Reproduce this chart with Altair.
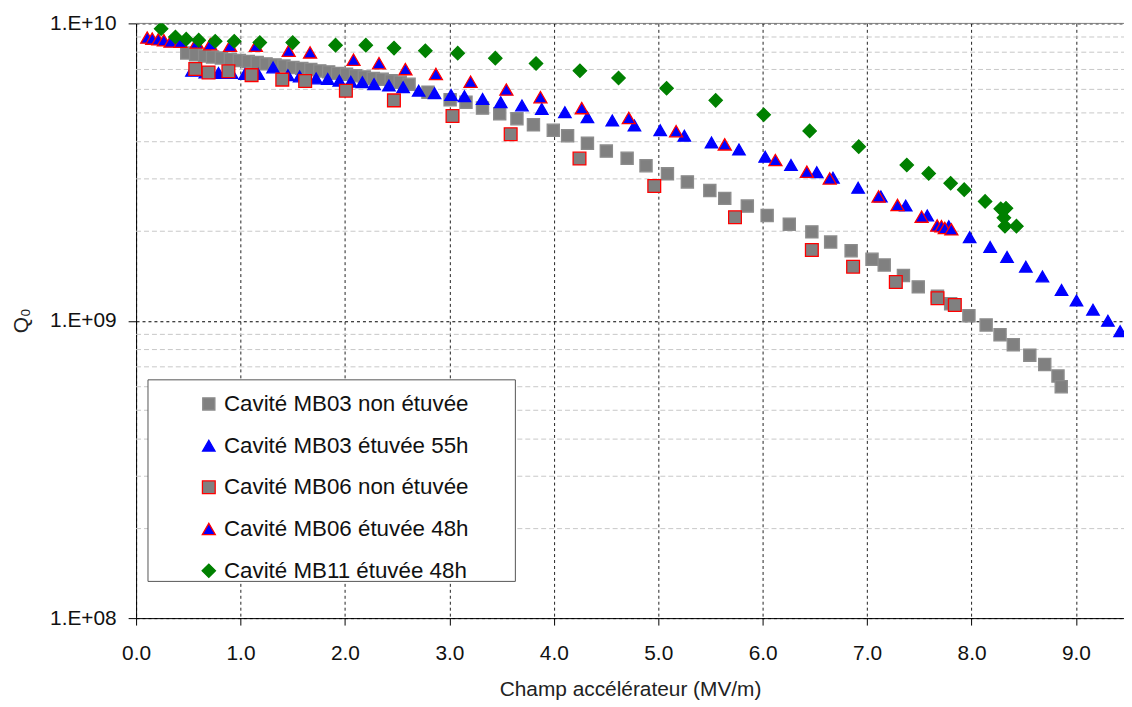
import altair as alt
import pandas as pd

# ---------------- data ----------------
SERIES = [
    "Cavité MB03 non étuvée",
    "Cavité MB03 étuvée 55h",
    "Cavité MB06 non étuvée",
    "Cavité MB06 étuvée 48h",
    "Cavité MB11 étuvée 48h",
]

# Champ accélérateur (MV/m) and Q0 (in units of 1e9)
MB03_NON_E = [0.485, 0.570, 0.656, 0.732, 0.817, 0.903, 0.989, 1.074, 1.160, 1.245,
              1.331, 1.416, 1.502, 1.587, 1.673, 1.759, 1.844, 1.930, 2.015, 2.101,
              2.186, 2.272, 2.357, 2.443, 2.529, 2.614, 2.795, 3.007, 3.159, 3.317,
              3.482, 3.647, 3.805, 3.995, 4.132, 4.322, 4.503, 4.702, 4.883, 5.088,
              5.279, 5.494, 5.637, 5.853, 6.043, 6.255, 6.471, 6.651, 6.847, 7.047,
              7.164, 7.348, 7.490, 7.674, 7.800, 7.975, 8.140, 8.273, 8.400, 8.558,
              8.701, 8.828, 8.859]
MB03_NON_Q = [7.95, 7.85, 7.77, 7.71, 7.65, 7.56, 7.50, 7.45, 7.39, 7.31,
              7.25, 7.19, 7.11, 7.06, 7.00, 6.92, 6.87, 6.79, 6.74, 6.67,
              6.61, 6.53, 6.49, 6.41, 6.34, 6.24, 5.87, 5.54, 5.43, 5.19,
              4.97, 4.78, 4.56, 4.37, 4.19, 3.95, 3.72, 3.52, 3.32, 3.12,
              2.93, 2.74, 2.58, 2.43, 2.26, 2.11, 1.99, 1.84, 1.72, 1.61,
              1.54, 1.42, 1.30, 1.21, 1.14, 1.04, 0.968, 0.897, 0.831, 0.766,
              0.713, 0.652, 0.600]

MB03_55_E = [0.535, 0.663, 0.789, 0.915, 1.043, 1.169, 1.312, 1.454, 1.566, 1.724,
             1.835, 1.946, 2.056, 2.167, 2.279, 2.421, 2.557, 2.706, 2.858, 3.016,
             3.144, 3.318, 3.492, 3.695, 3.885, 4.106, 4.322, 4.560, 4.772, 5.019,
             5.250, 5.510, 5.773, 6.024, 6.271, 6.518, 6.673, 6.914, 7.132, 7.370,
             7.576, 7.782, 7.982, 8.178, 8.340, 8.520, 8.679, 8.862, 9.005, 9.163,
             9.306, 9.423]
MB03_55_Q = [6.93, 6.84, 6.81, 6.81, 6.76, 6.76, 7.11, 6.70, 6.63, 6.53,
             6.50, 6.42, 6.37, 6.34, 6.25, 6.18, 6.10, 5.94, 5.82, 5.75,
             5.69, 5.57, 5.43, 5.30, 5.16, 5.03, 4.84, 4.72, 4.54, 4.37,
             4.19, 3.98, 3.77, 3.56, 3.34, 3.16, 3.03, 2.80, 2.62, 2.44,
             2.26, 2.08, 1.91, 1.77, 1.64, 1.52, 1.41, 1.27, 1.17, 1.09,
             1.00, 0.923]

MB06_NON_E = [0.567, 0.694, 0.884, 1.106, 1.400, 1.619, 2.009, 2.469, 3.030, 3.587,
              4.246, 4.962, 5.735, 6.471, 6.866, 7.275, 7.674, 7.840]
MB06_NON_Q = [7.02, 6.84, 6.90, 6.70, 6.47, 6.40, 5.94, 5.51, 4.88, 4.24,
              3.51, 2.84, 2.23, 1.73, 1.52, 1.35, 1.19, 1.13]

MB06_48_E = [0.107, 0.155, 0.213, 0.266, 0.330, 0.425, 0.580, 0.710, 0.900, 1.147,
             1.461, 1.666, 2.082, 2.326, 2.579, 2.871, 3.203, 3.546, 3.872, 4.268,
             4.718, 5.171, 5.637, 6.122, 6.423, 6.642, 7.110, 7.291, 7.522, 7.671,
             7.712, 7.744, 7.807]
MB06_48_Q = [8.96, 8.89, 8.84, 8.78, 8.69, 8.67, 8.63, 8.51, 8.41, 8.41,
             8.09, 7.99, 7.55, 7.35, 7.02, 6.76, 6.37, 5.99, 5.65, 5.19,
             4.81, 4.34, 3.92, 3.47, 3.17, 3.01, 2.62, 2.45, 2.24, 2.09,
             2.08, 2.05, 2.03]

MB11_48_E = [0.24, 0.377, 0.48, 0.60, 0.758, 0.94, 1.185, 1.50, 1.91, 2.20,
             2.47, 2.77, 3.08, 3.44, 3.83, 4.25, 4.62, 5.08, 5.55, 6.01,
             6.45, 6.92, 7.38, 7.59, 7.80, 7.93, 8.13, 8.28, 8.33, 8.31,
             8.32, 8.43]
MB11_48_Q = [9.6, 9.0, 8.85, 8.78, 8.71, 8.71, 8.62, 8.62, 8.45, 8.45,
             8.26, 8.09, 7.94, 7.64, 7.33, 6.93, 6.55, 6.05, 5.51, 4.93,
             4.35, 3.85, 3.34, 3.13, 2.90, 2.76, 2.52, 2.38, 2.39, 2.22,
             2.08, 2.08]

X_TICKS = [0, 1, 2, 3, 4, 5, 6, 7, 8, 9]
Y_TICK_VALUES = [1e8, 1e9, 1e10]
Y_TICK_LABELS = ["1.E+08", "1.E+09", "1.E+10"]
MINOR_GRID = [2e8, 3e8, 4e8, 5e8, 6e8, 7e8, 8e8, 9e8,
              2e9, 3e9, 4e9, 5e9, 6e9, 7e9, 8e9, 9e9]

X_TITLE = "Champ accélérateur (MV/m)"
Y_TITLE = "Q₀"

# ---------------- styles ----------------
SHAPES = ["square", "triangle-up", "square", "triangle-up", "diamond"]
FILLS = ["#808080", "#0000FF", "#808080", "#0000FF", "#008000"]
STROKES = ["#8c8c8c", "#0000FF", "#FF0000", "#FF0000", "#008000"]
SIZES = [150, 180, 135, 180, 170]

FONT = "Liberation Sans"
W, H = 995, 599

all_e = [MB03_NON_E, MB03_55_E, MB06_NON_E, MB06_48_E, MB11_48_E]
all_q = [MB03_NON_Q, MB03_55_Q, MB06_NON_Q, MB06_48_Q, MB11_48_Q]
rows = []
k = 0
for name, es, qs in zip(SERIES, all_e, all_q):
    for e, q in zip(es, qs):
        rows.append({"serie": name, "E": e, "Q": q * 1e9, "ord": k})
        k += 1
df = pd.DataFrame(rows)

x_scale = alt.Scale(domain=[0, 9.46], nice=False, zero=False)
y_scale = alt.Scale(type="log", domain=[1e8, 1e10], nice=False)

label_expr = " : ".join(
    f"datum.value < {v * 3.0:g} ? '{lab}'" for v, lab in zip(Y_TICK_VALUES[:-1], Y_TICK_LABELS[:-1])
) + f" : '{Y_TICK_LABELS[-1]}'"

x_axis = alt.Axis(
    values=X_TICKS, format=".1f", title=X_TITLE,
    grid=True, gridColor="#222222", gridDash=[3, 3], gridWidth=1,
    domainColor="#000000", domainWidth=1, tickColor="#000000", tickSize=7,
    labelFont=FONT, labelFontSize=21, labelColor="#111111", labelPadding=18,
    labelFlush=False, labelOverlap=False,
    titleFont=FONT, titleFontSize=21, titleFontWeight="normal", titleColor="#222222",
    titleY=72, titleBaseline="middle",
)
y_axis = alt.Axis(
    values=Y_TICK_VALUES, labelExpr=label_expr, title=Y_TITLE,
    grid=True, gridColor="#000000", gridDash=[3, 3], gridWidth=1,
    domainColor="#000000", domainWidth=1, tickColor="#000000", tickSize=8,
    labelFont=FONT, labelFontSize=21, labelColor="#111111", labelPadding=12,
    labelFlush=False, labelOverlap=False, labelBaseline="middle",
    titleFont=FONT, titleFontSize=21, titleFontWeight="normal", titleColor="#222222",
    titleX=-115, titleY=299, titleAngle=270, titleAlign="center", titleBaseline="middle",
)

minor = alt.Chart(pd.DataFrame({"Q": MINOR_GRID})).mark_rule(
    color="#c8c8c8", strokeDash=[5, 3], strokeWidth=1
).encode(
    y=alt.Y("Q:Q", scale=y_scale, axis=y_axis),
    x=alt.value(0), x2=alt.value(W),
)

top_border = alt.Chart(pd.DataFrame({"k": [0]})).mark_rule(
    color="#808080", strokeWidth=1
).encode(x=alt.value(0), x2=alt.value(W), y=alt.value(0))

legend_box = alt.Chart(pd.DataFrame({"k": [0]})).mark_rect(
    fill="#ffffff", stroke="#555555", strokeWidth=1
).encode(x=alt.value(12), x2=alt.value(382), y=alt.value(359), y2=alt.value(562))

leg = alt.Legend(
    title=None, orient="none", legendX=62, legendY=372, padding=0,
    labelFont=FONT, labelFontSize=22.5, labelColor="#111111", labelOffset=4,
    rowPadding=19, labelLimit=500, symbolStrokeWidth=1.3,
)

points = alt.Chart(df).mark_point(filled=True, opacity=1, strokeWidth=1.3, clip=True).encode(
    x=alt.X("E:Q", scale=x_scale, axis=x_axis),
    y=alt.Y("Q:Q", scale=y_scale, axis=y_axis),
    shape=alt.Shape("serie:N", scale=alt.Scale(domain=SERIES, range=SHAPES), legend=leg),
    fill=alt.Fill("serie:N", scale=alt.Scale(domain=SERIES, range=FILLS), legend=leg),
    stroke=alt.Stroke("serie:N", scale=alt.Scale(domain=SERIES, range=STROKES), legend=leg),
    size=alt.Size("serie:N", scale=alt.Scale(domain=SERIES, range=SIZES), legend=leg),
    order=alt.Order("ord:Q"),
)

chart = alt.layer(minor, top_border, points, legend_box).properties(
    width=W, height=H,
    autosize=alt.AutoSizeParams(type="none"),
    padding={"left": 129, "top": 13, "right": 0, "bottom": 86},
    background="#ffffff",
).configure_view(strokeWidth=0)

chart.save("out.html", embed_options={"renderer": "svg", "actions": False})
